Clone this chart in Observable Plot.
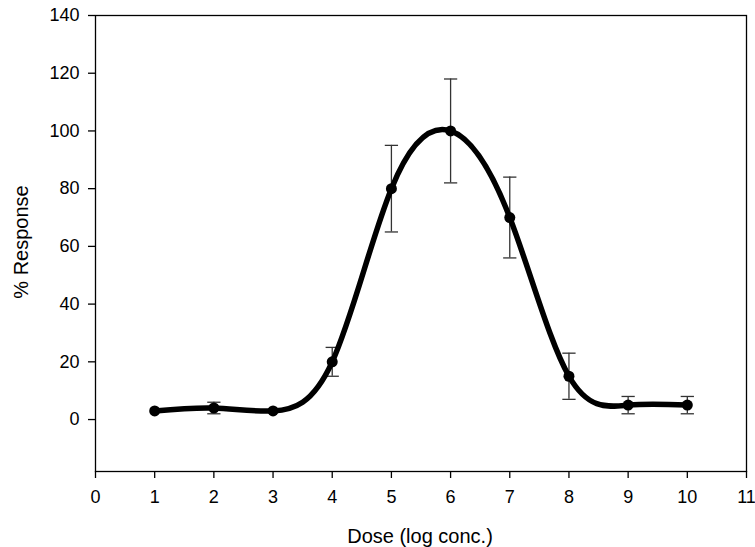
<!DOCTYPE html>
<html>
<head>
<meta charset="utf-8">
<script src="https://cdn.jsdelivr.net/npm/d3@7"></script>
<script src="https://cdn.jsdelivr.net/npm/@observablehq/plot@0.6"></script>
<style>
  html, body { margin: 0; padding: 0; background: #fff; }
  #chart { width: 755px; height: 547px; }
</style>
</head>
<body>
<div id="chart"></div>
<script>
const dose = [1, 2, 3, 4, 5, 6, 7, 8, 9, 10];
const response = [3, 4, 3, 20, 80, 100, 70, 15, 5, 5];
const errLow = [3, 2, 3, 15, 65, 82, 56, 7, 2, 2];
const errHigh = [3, 6, 3, 25, 95, 118, 84, 23, 8, 8];
const xTicks = [0, 1, 2, 3, 4, 5, 6, 7, 8, 9, 10, 11];
const yTicks = [0, 20, 40, 60, 80, 100, 120, 140];

const data = dose.map((x, i) => ({x, y: response[i], lo: errLow[i], hi: errHigh[i]}));
const bars = data.filter(d => d.hi > d.lo);
const capHalf = 0.112;

const chart = Plot.plot({
  width: 755,
  height: 547,
  marginLeft: 95,
  marginRight: 9,
  marginTop: 15,
  marginBottom: 76,
  style: {fontFamily: "'Liberation Sans', Arial, sans-serif", fontSize: "18px", color: "#000", background: "#fff"},
  x: {domain: [0, 11]},
  y: {domain: [-18, 140]},
  marks: [
    Plot.frame({stroke: "#000", strokeWidth: 1.3}),
    Plot.axisX({ticks: xTicks, tickSize: 7, tickPadding: 12, tickFormat: d => String(d), fontSize: 18, strokeWidth: 1.3, label: null}),
    Plot.axisY({ticks: yTicks, tickSize: 7, tickPadding: 9, tickFormat: d => String(d), fontSize: 18, strokeWidth: 1.3, label: null}),
    Plot.ruleX(bars, {x: "x", y1: "lo", y2: "hi", stroke: "#333", strokeWidth: 1.3}),
    Plot.link(bars, {x1: d => d.x - capHalf, x2: d => d.x + capHalf, y1: "lo", y2: "lo", stroke: "#333", strokeWidth: 1.3}),
    Plot.link(bars, {x1: d => d.x - capHalf, x2: d => d.x + capHalf, y1: "hi", y2: "hi", stroke: "#333", strokeWidth: 1.3}),
    Plot.line(data, {x: "x", y: "y", curve: "natural", stroke: "#000", strokeWidth: 5.5}),
    Plot.dot(data, {x: "x", y: "y", r: 5.5, fill: "#000", stroke: "none"})
  ]
});

chart.setAttribute("font-size", "18");
chart.setAttribute("font-family", "Liberation Sans, Arial, sans-serif");
chart.querySelectorAll("text").forEach(t => {
  t.setAttribute("font-size", "18");
  t.style.fontSize = "18px";
});

const svg = d3.select(chart);
svg.append("text")
  .attr("x", 420).attr("y", 543)
  .attr("text-anchor", "middle")
  .attr("fill", "#000")
  .attr("font-size", "20")
  .style("font-size", "20px")
  .text("Dose (log conc.)");
svg.append("text")
  .attr("transform", "translate(28,242) rotate(-90)")
  .attr("text-anchor", "middle")
  .attr("fill", "#000")
  .attr("font-size", "20")
  .style("font-size", "20px")
  .text("% Response");

document.getElementById("chart").appendChild(chart);
</script>
</body>
</html>
